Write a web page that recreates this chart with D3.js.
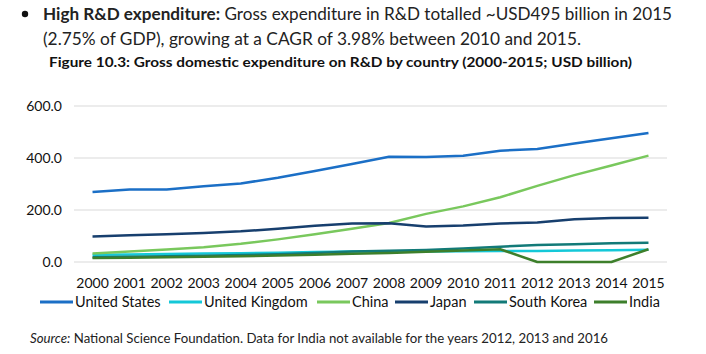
<!DOCTYPE html>
<html>
<head>
<meta charset="utf-8">
<script src="https://cdn.jsdelivr.net/npm/d3@7"></script>
<style>
  body { margin: 0; background: #fff; }
  svg { display: block; }
</style>
</head>
<body>
<div id="chart"></div>
<script>
// values (USD billion)
const years = ["2000", "2001", "2002", "2003", "2004", "2005", "2006", "2007",
    "2008", "2009", "2010", "2011", "2012", "2013", "2014", "2015"];
const yTicks = [0, 200, 400, 600];

const unitedStates = [269, 279, 279, 291, 302, 324, 350, 377, 405, 404, 409, 428, 435, 456, 476, 496];
const unitedKingdom = [28, 29, 31, 33, 34, 36, 38, 40, 40, 40, 41, 42, 42, 44, 45, 47];
const china = [33, 40, 48, 57, 70, 87, 107, 128, 150, 185, 214, 249, 293, 334, 371, 409];
const japan = [98, 103, 107, 112, 118, 128, 139, 148, 149, 137, 140, 148, 152, 164, 169, 170];
const southKorea = [18, 20, 22, 24, 27, 30, 35, 40, 43, 46, 52, 59, 65, 68, 72, 74];
const india = [15, 16, 18, 20, 22, 25, 28, 32, 35, 39, 44, 49, 0, 0, 0, 49];

const seriesNames = ["United States", "United Kingdom", "China", "Japan", "South Korea", "India"];
const seriesValues = [unitedStates, unitedKingdom, china, japan, southKorea, india];
const seriesColors = ["#1b6fc6", "#14c8d8", "#79c85d", "#173f6e", "#127a78", "#3d7f2b"];

const width = 706, height = 354;
const font = "Lato, 'Open Sans', sans-serif";

const svg = d3.select("#chart").append("svg")
    .attr("width", width).attr("height", height);

// heading text above the figure
svg.append("circle").attr("cx", 25).attr("cy", 14).attr("r", 3.2).attr("fill", "#111");

const line1 = svg.append("text")
    .attr("x", 43).attr("y", 20)
    .attr("font-family", font).attr("font-size", 17).attr("fill", "#222")
    .attr("textLength", 629).attr("lengthAdjust", "spacingAndGlyphs");
line1.append("tspan").attr("font-weight", "bold").text("High R&D expenditure:");
line1.append("tspan").text(" Gross expenditure in R&D totalled ~USD495 billion in 2015");

svg.append("text")
    .attr("x", 43).attr("y", 45)
    .attr("font-family", font).attr("font-size", 17).attr("fill", "#222")
    .attr("textLength", 538).attr("lengthAdjust", "spacingAndGlyphs")
    .text("(2.75% of GDP), growing at a CAGR of 3.98% between 2010 and 2015.");

svg.append("text")
    .attr("x", 49).attr("y", 67)
    .attr("font-family", font).attr("font-size", 14).attr("font-weight", "bold").attr("fill", "#111")
    .attr("textLength", 583).attr("lengthAdjust", "spacingAndGlyphs")
    .text("Figure 10.3: Gross domestic expenditure on R&D by country (2000-2015; USD billion)");

// plot area
const x = d3.scaleBand().domain(years).range([74, 667]);
const y = d3.scaleLinear().domain([0, 600]).range([262, 106]);

svg.append("g")
    .selectAll("line")
    .data(yTicks)
    .join("line")
    .attr("x1", 74).attr("x2", 667)
    .attr("y1", d => y(d)).attr("y2", d => y(d))
    .attr("stroke", "#d9d9d9").attr("stroke-width", 1);

svg.append("g")
    .attr("font-family", font).attr("font-size", 14).attr("fill", "#111")
    .selectAll("text")
    .data(yTicks)
    .join("text")
    .attr("x", 62).attr("y", d => y(d))
    .attr("dy", "0.35em")
    .attr("text-anchor", "end")
    .text(d => d.toFixed(1));

svg.append("g")
    .attr("font-family", font).attr("font-size", 14).attr("fill", "#111")
    .selectAll("text")
    .data(years)
    .join("text")
    .attr("x", d => x(d) + x.bandwidth() / 2).attr("y", 288)
    .attr("text-anchor", "middle")
    .text(d => d);

const line = d3.line()
    .x((d, i) => x(years[i]) + x.bandwidth() / 2)
    .y(d => y(d));

svg.append("g")
    .attr("fill", "none")
    .attr("stroke-width", 2.5)
    .attr("stroke-linejoin", "round")
    .selectAll("path")
    .data(seriesValues)
    .join("path")
    .attr("stroke", (d, i) => seriesColors[i])
    .attr("d", d => line(d));

// legend
const legendX = [40, 169, 317, 395, 474, 594];
const legend = svg.append("g")
    .attr("font-family", font).attr("font-size", 14.5).attr("fill", "#111")
    .selectAll("g")
    .data(seriesNames)
    .join("g")
    .attr("transform", (d, i) => `translate(${legendX[i]},302)`);
legend.append("line")
    .attr("x1", 0).attr("x2", 33)
    .attr("stroke", (d, i) => seriesColors[i]).attr("stroke-width", 3);
legend.append("text")
    .attr("x", 35).attr("dy", "0.35em")
    .text(d => d);

// source note
const src = svg.append("text")
    .attr("x", 30).attr("y", 343)
    .attr("font-family", font).attr("font-size", 13).attr("fill", "#222")
    .attr("textLength", 578).attr("lengthAdjust", "spacingAndGlyphs");
src.append("tspan").attr("font-style", "italic").text("Source:");
src.append("tspan").text(" National Science Foundation. Data for India not available for the years 2012, 2013 and 2016");
</script>
</body>
</html>
